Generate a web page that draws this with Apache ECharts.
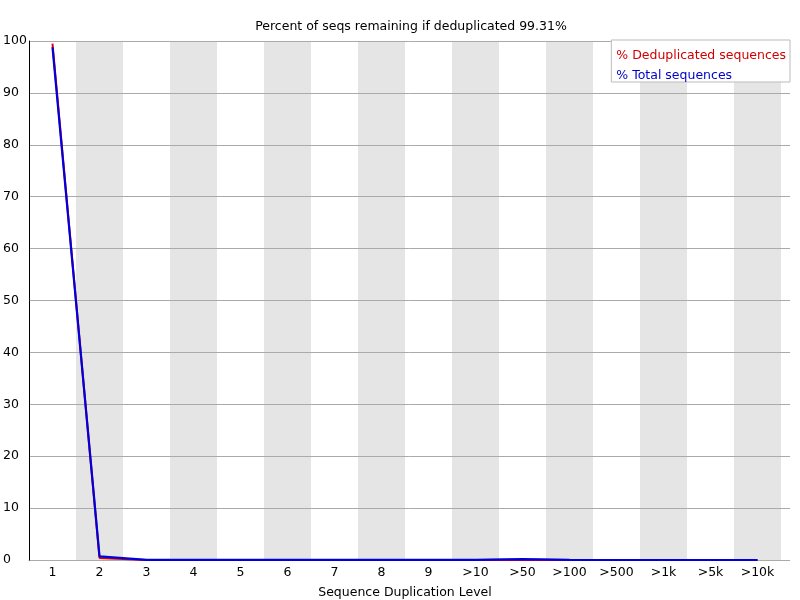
<!DOCTYPE html>
<html><head><meta charset="utf-8">
<script src="https://cdn.jsdelivr.net/npm/echarts@6/dist/echarts.min.js"></script>
<style>html,body{margin:0;padding:0;background:#fff}#c{width:800px;height:600px}</style>
</head><body><div id="c"></div>
<script>
const categories = ['1','2','3','4','5','6','7','8','9','>10','>50','>100','>500','>1k','>5k','>10k'];
const dedupValues = [99.5, 0.4, 0, 0, 0, 0, 0, 0, 0, 0, 0.05, 0, 0, 0, 0, 0];
const totalValues = [98.8, 0.7, 0.02, 0.01, 0.01, 0.01, 0.01, 0.01, 0.01, 0.02, 0.15, 0.03, 0, 0, 0, 0];
const yTicks = {min: 0, max: 100, interval: 10};
const font = 'DejaVu Sans';
const fs = 12.5;
const chart = echarts.init(document.getElementById('c'));
chart.setOption({
  animation: false,
  backgroundColor: '#fff',
  textStyle: {fontFamily: font},
  title: {text: 'Percent of seqs remaining if deduplicated 99.31%', left: 406, top: 15, textAlign: 'center',
    textStyle: {fontFamily: font, fontSize: fs, fontWeight: 'normal', color: '#000'}},
  legend: {
    right: 10, top: 40, orient: 'vertical', icon: 'rect', itemWidth: 0, itemHeight: 0, itemGap: 7,
    borderColor: '#bbb', borderWidth: 1, backgroundColor: '#fff', padding: [9, 4, 0, 0],
    data: [
      {name: '% Deduplicated sequences', textStyle: {color: '#d00000'}},
      {name: '% Total sequences', textStyle: {color: '#0000c8'}}
    ],
    textStyle: {fontFamily: font, fontSize: fs}
  },
  grid: [
    {left: 29, right: 19, top: 41, bottom: 40, outerBoundsMode: 'none', containLabel: false},
    {left: 29, right: 10, top: 41, bottom: 40, outerBoundsMode: 'none', containLabel: false}
  ],
  xAxis: [
    {type: 'category', gridIndex: 0, data: categories, boundaryGap: true,
     name: 'Sequence Duplication Level', nameLocation: 'middle', nameGap: 26,
     nameTextStyle: {fontFamily: font, fontSize: fs, color: '#000'},
     axisLine: {lineStyle: {color: '#aaa'}}, axisTick: {show: false},
     axisLabel: {fontFamily: font, fontSize: fs, color: '#000', margin: 6, interval: 0},
     splitLine: {show: false},
     splitArea: {show: true, interval: 0, areaStyle: {color: ['rgba(255,255,255,0)', '#e5e5e5']}}},
    {type: 'value', gridIndex: 1, show: false}
  ],
  yAxis: [
    {type: 'value', gridIndex: 0, min: yTicks.min, max: yTicks.max, interval: yTicks.interval, show: false,
     splitLine: {show: false}},
    {type: 'value', gridIndex: 1, min: yTicks.min, max: yTicks.max, interval: yTicks.interval, z: 3,
     axisLine: {show: true, lineStyle: {color: '#000'}}, axisTick: {show: false},
     axisLabel: {fontFamily: font, fontSize: fs, color: '#000', margin: 26, align: 'left'},
     splitLine: {show: true, lineStyle: {color: '#aaa', width: 1}}}
  ],
  series: [
    {name: '% Deduplicated sequences', type: 'line', xAxisIndex: 0, yAxisIndex: 0, data: dedupValues,
     symbol: 'none', lineStyle: {color: '#e00000', width: 2}, itemStyle: {color: '#e00000'}, z: 5},
    {name: '% Total sequences', type: 'line', xAxisIndex: 0, yAxisIndex: 0, data: totalValues,
     symbol: 'none', lineStyle: {color: '#0000dd', width: 2.2}, itemStyle: {color: '#0000dd'}, z: 6}
  ]
});
</script></body></html>
